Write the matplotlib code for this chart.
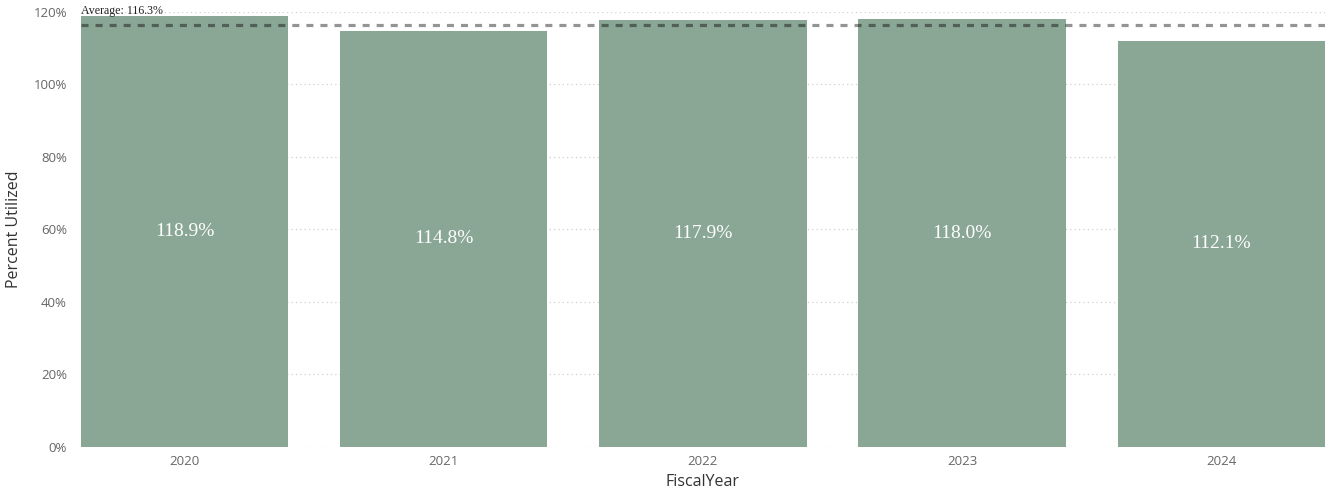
import matplotlib
matplotlib.use("Agg")
import matplotlib.pyplot as plt
from matplotlib.ticker import FuncFormatter

years = ["2020", "2021", "2022", "2023", "2024"]
utilized = [118.9, 114.8, 117.9, 118.0, 112.1]
average = 116.3
yticks = [0, 20, 40, 60, 80, 100, 120]

fig = plt.figure(figsize=(13.27, 4.9), dpi=100)
ax = fig.add_axes([0.061, 0.088, 0.9375, 0.8875])

x = list(range(len(years)))
bars = ax.bar(x, utilized, width=0.8, color="#8AA695", zorder=2)
for xi, v in zip(x, utilized):
    ax.text(xi, v / 2, f"{v:.1f}%", ha="center", va="center", color="white",
            fontsize=14, family="Liberation Serif", zorder=4)

ax.axhline(average, color="black", alpha=0.42, lw=2.3, ls=(0, (2.2, 2.2)), zorder=3)
ax.text(-0.4, 118.6, f"Average: {average}%", ha="left", va="bottom", fontsize=8.6,
        family="Liberation Serif", color="#222222", zorder=5, clip_on=False)

ax.set_xlim(-0.4, 4.4)
ax.set_ylim(0, 120)
ax.set_yticks(yticks)
ax.yaxis.set_major_formatter(FuncFormatter(lambda v, p: f"{v:.0f}%"))
ax.set_xticks(x)
ax.set_xticklabels(years)
ax.grid(axis="y", color="#D0D0D0", ls=(0, (1, 2.5)), lw=0.9, zorder=1)
for s in ax.spines.values():
    s.set_visible(False)
ax.tick_params(length=0, labelsize=9.5, labelcolor="#666666")
ax.tick_params(axis="y", pad=10)
ax.tick_params(axis="x", pad=6)
for lab in ax.get_xticklabels() + ax.get_yticklabels():
    lab.set_family("Open Sans")

ax.set_xlabel("FiscalYear", fontsize=11.5, color="#333333", family="Open Sans", labelpad=4)
ax.set_ylabel("Percent Utilized", fontsize=11.5, color="#333333", family="Open Sans", labelpad=8)

fig.savefig("out.png", dpi=100)
